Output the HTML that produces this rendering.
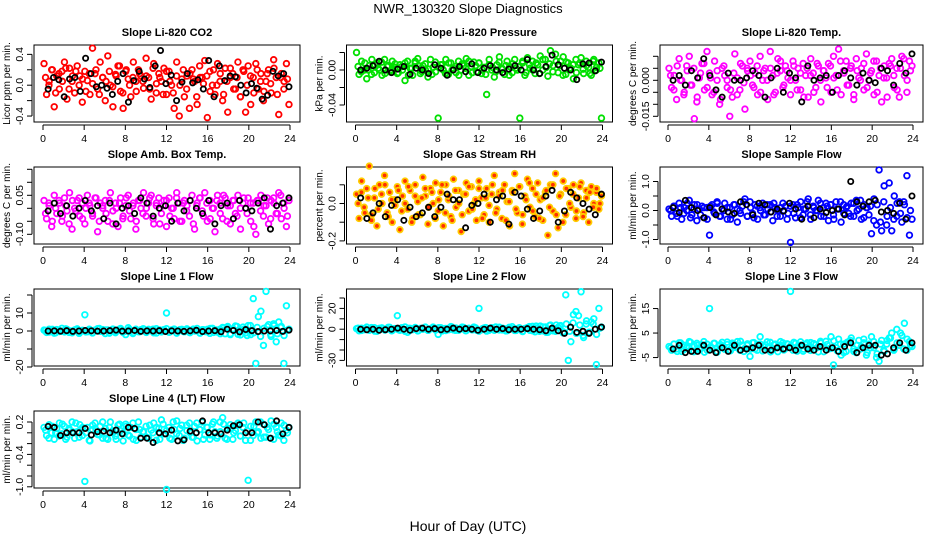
<!DOCTYPE html>
<html><head><meta charset="utf-8"><style>
html,body{margin:0;padding:0;background:#fff;}
svg{display:block;font-family:"Liberation Sans",sans-serif;}
</style></head><body>
<svg id="chart" width="936" height="540" viewBox="0 0 936 540">
<rect x="0" y="0" width="936" height="540" fill="#fff"/>
<text x="468" y="13" text-anchor="middle" font-size="13">NWR_130320  Slope Diagnostics</text>
<text x="468" y="531" text-anchor="middle" font-size="14">Hour of Day (UTC)</text>
</svg>
<script>
const xTicks = [0,4,8,12,16,20,24];
const titles = ["Slope Li-820 CO2","Slope Li-820 Pressure","Slope Li-820 Temp.","Slope Amb. Box Temp.","Slope Gas Stream RH","Slope Sample Flow","Slope Line 1 Flow","Slope Line 2 Flow","Slope Line 3 Flow","Slope Line 4 (LT) Flow"];
const yTitles = ["Licor ppm per min.","kPa per min.","degrees C per min.","degrees C per min.","percent per min.","ml/min per min.","ml/min per min.","ml/min per min.","ml/min per min.","ml/min per min."];
const colors = ["#ff0000","#00e000","#ff00ff","#ff00ff","#ffcc00","#0000ff","#00ffff","#00ffff","#00ffff","#00ffff"];
const yTicks = [[-0.4,-0.2,0,0.2,0.4],[-0.04,-0.02,0,0.02],[-0.015,-0.01,-0.005,0,0.005,0.01],[-0.1,-0.05,0,0.05,0.1,0.15],[-0.2,-0.1,0,0.1],[-1,-0.5,0,0.5,1],[-20,-10,0,10,20],[-30,-20,-10,0,10,20,30],[-5,5,15],[-1,-0.8,-0.6,-0.4,-0.2,0,0.2]];
const yTickLabels = [["-0.4","","0.0","","0.4"],["-0.04","","0.00",""],["-0.015","","","0.000","",""],["-0.10","","","0.05","",""],["-0.2","","0.0",""],["-1.0","","0.0","","1.0"],["-20","","0","10",""],["-30","","","0","","20",""],["-5","5","15"],["-1.0","","","-0.4","","","0.2"]];

const co2 = [0.28,-0.12,0.05,0.2,-0.28,0.12,-0.05,0.18, 0.3,-0.18,0.22,0.05,-0.1,0.25,0.12,-0.22, 0.18,0.06,-0.12,0.48,0.15,-0.05,0.3,0.1, -0.2,0.38,0.0,-0.28,0.14,0.25,-0.08,-0.3, 0.18,0.08,-0.15,0.3,0.05,0.2,0.12,-0.04, 0.35,0.1,-0.18,0.28,-0.1,0.15,0.05,0.22, -0.12,0.18,0.0,-0.3,0.3,-0.4,0.08,-0.15, 0.12,-0.3,0.2,0.05,-0.25,0.25,0.1,0.32, -0.42,0.18,0.0,-0.12,0.28,0.05,-0.2,0.22, -0.35,0.1,0.15,-0.05,0.3,-0.15,0.2,-0.35, 0.25,-0.25,0.1,0.28,-0.05,0.15,-0.2,0.05, 0.2,-0.1,0.33,0.1,-0.38,0.15,-0.05,0.28, -0.25];
const co2B = [0.1,0.0,0.2,-0.1,0.15,0.05, 0.22,-0.05,0.12,0.18,0.0,0.08, -0.08,0.15,0.02,0.2,-0.12,0.1, 0.05,0.18,-0.02,0.12,0.25,-0.1, 0.2,0.0,0.1,-0.08,0.15,0.05, 0.12,-0.05,0.22,0.02,0.1,-0.12, 0.18,0.05,-0.1,0.12,0.0,0.2, -0.05,0.15,0.08,-0.15,0.1,0.02, 0.12,-0.08,0.2,0.0,0.15,-0.12, 0.05,0.22,-0.05,0.1,-0.15,0.18, 0.0,0.12,-0.1,0.2,0.05,-0.08, 0.15,0.02,0.22,-0.12,0.1,0.05, 0.08];
const co2Ref = [-0.05,0.1,0.07,-0.15,0.08,0.1,-0.08,0.35,0.15,-0.02,0.0,-0.04,-0.12,0.05,0.15,-0.22,0.06,0.18,0.08,-0.03,0.25,0.45,0.02,0.13,-0.2,0.04,0.15,0.03,0.07,-0.05,0.32,-0.15,0.25,0.06,0.12,0.11,0.0,-0.1,0.02,-0.04,-0.18,-0.13,0.18,0.12,0.15,-0.02];
const pres = [0.02,-0.005,0.01,0.0,-0.01,0.005,0.012,-0.003, 0.008,0.0,-0.006,0.012,0.004,-0.002,0.01,0.003, -0.004,0.006,0.0,-0.012,0.01,0.002,-0.006,0.008, 0.013,-0.004,0.005,0.0,-0.008,0.012,0.003,-0.002, -0.055,0.006,0.0,0.012,-0.005,0.008,0.002,-0.003, 0.01,0.0,0.005,0.013,-0.006,0.004,0.009,-0.002, 0.008,-0.004,0.003,-0.028,0.012,0.0,-0.008,0.006, 0.015,0.002,-0.005,0.01,0.004,-0.003,0.012,0.0, -0.055,0.008,-0.006,0.014,0.002,0.01,-0.004,0.006, 0.016,0.0,0.012,-0.007,0.022,0.005,0.018,-0.003, 0.01,0.015,-0.005,0.008,0.002,-0.01,0.012,0.006, 0.014,-0.004,0.01,0.003,-0.006,0.012,0.0,0.008, -0.055];
const presB = [0.004,-0.002,0.008,0.0,-0.005,0.006, 0.002,0.009,-0.004,0.005,0.0,0.007, -0.003,0.004,0.008,-0.006,0.002,0.01, 0.005,-0.002,0.007,0.001,-0.005,0.009, 0.003,0.006,-0.004,0.008,0.0,0.004, -0.006,0.007,0.002,0.01,-0.003,0.005, 0.008,0.0,-0.005,0.006,0.003,-0.002, 0.009,0.001,0.005,-0.006,0.007,0.002, 0.004,0.01,-0.003,0.006,0.0,0.008, -0.004,0.012,0.003,0.007,-0.002,0.01, 0.005,-0.006,0.009,0.002,0.006,-0.003, 0.008,0.001,0.005,-0.004,0.01,0.003, 0.002];
const presRef = [0.0,0.002,0.005,0.01,0.0,-0.003,0.001,0.004,-0.005,0.002,0.0,-0.004,0.006,0.002,-0.006,0.0,0.004,-0.002,0.007,-0.003,0.002,0.005,0.0,-0.003,0.001,0.005,0.0,0.012,0.0,-0.004,0.004,0.017,0.006,0.002,0.0,-0.011,0.007,0.008,-0.001,0.009];
const temp = [0.005,-0.003,0.002,-0.008,0.009,0.0,-0.005,0.006, 0.01,-0.002,-0.016,-0.009,0.001,0.007,-0.004,0.012, 0.003,-0.006,0.008,0.0,-0.01,0.005,0.002,-0.003, -0.015,-0.007,0.011,0.001,-0.004,0.006,-0.012,0.004, 0.008,-0.002,0.003,-0.006,0.01,0.0,0.005,-0.008, 0.012,0.002,-0.005,0.009,0.004,-0.003,0.006,0.001, -0.006,0.008,0.0,0.005,-0.004,0.007,0.002,-0.007, 0.009,0.003,-0.003,0.006,-0.009,0.004,0.001,0.007, -0.005,0.01,0.002,0.013,-0.006,0.004,0.008,-0.002, 0.006,-0.008,0.009,0.001,0.005,-0.004,0.011,0.0, 0.004,-0.006,0.008,0.002,-0.009,0.006,0.001,0.007, 0.009,-0.003,0.005,-0.007,0.01,0.002,-0.005,0.008, 0.006];
const tempB = [0.002,-0.004,0.006,0.0,-0.006,0.004, -0.002,0.005,-0.007,0.003,0.007,-0.003, 0.001,-0.005,0.004,-0.008,0.006,0.0, -0.004,0.003,-0.006,0.007,-0.001,0.005, 0.002,-0.003,0.006,-0.005,0.004,0.0, 0.005,-0.006,0.003,0.008,-0.002,0.004, 0.0,0.006,-0.004,0.003,-0.007,0.005, 0.002,-0.005,0.007,0.0,0.004,-0.003, 0.006,0.001,-0.004,0.008,0.003,-0.002, 0.005,-0.006,0.004,0.0,0.007,-0.003, 0.003,0.008,-0.005,0.005,0.001,-0.007, 0.006,0.002,-0.004,0.005,0.009,0.0, 0.004];
const tempRef = [0.0,0.002,-0.002,0.004,0.001,0.009,0.002,-0.004,-0.007,0.003,0.0,0.0,0.001,0.004,0.002,-0.007,0.001,0.005,-0.005,0.003,0.001,-0.009,0.006,0.0,0.001,0.002,-0.005,0.002,0.004,0.001,-0.002,0.003,0.0,-0.001,0.005,0.004,-0.002,0.007,0.003,0.011];
const amb = [0.03,-0.04,0.01,-0.07,0.05,-0.02,0.02,-0.05, 0.04,-0.01,0.06,-0.08,0.0,0.03,-0.03,0.02, -0.06,0.05,0.01,-0.02,0.04,-0.09,0.02,0.0, 0.03,-0.05,0.06,-0.01,0.02,-0.07,0.04,-0.03, 0.01,0.05,-0.04,0.02,-0.08,0.03,0.0,0.06, -0.03,0.02,0.05,-0.06,0.01,0.04,-0.02,0.03, -0.07,0.04,0.0,-0.04,0.06,0.02,-0.05,0.03, 0.01,-0.03,0.05,-0.08,0.02,0.04,-0.01,0.06, -0.05,0.03,0.0,-0.09,0.05,0.02,-0.04,0.04, 0.01,-0.06,0.03,-0.02,0.05,-0.08,0.02,0.0, 0.04,-0.05,0.02,-0.1,0.03,0.05,-0.03,0.01, -0.06,0.03,0.04,-0.02,0.06,-0.04,0.02,-0.07, 0.03];
const ambB = [-0.02,0.02,-0.05,0.0,0.03,-0.03, 0.01,-0.06,0.03,-0.01,0.04,-0.04, 0.0,0.02,-0.03,0.04,-0.05,0.01, -0.02,0.03,-0.06,0.0,0.02,-0.04, 0.04,-0.01,0.01,-0.05,0.03,-0.02, 0.0,0.04,-0.04,0.02,-0.06,0.01, 0.03,-0.03,0.0,0.04,-0.05,0.02, -0.01,0.03,-0.06,0.01,0.04,-0.03, 0.02,-0.04,0.0,0.03,-0.02,0.05, -0.05,0.01,0.03,-0.03,0.0,0.04, -0.02,0.02,-0.07,0.03,-0.01,0.01, 0.04,-0.04,0.02,-0.02,0.05,0.0, -0.03];
const ambRef = [-0.01,0.02,-0.02,0.01,-0.03,0.0,0.03,-0.01,0.01,-0.04,0.02,-0.06,0.0,0.01,-0.02,0.04,0.02,-0.03,0.0,0.01,-0.05,0.02,-0.01,0.03,0.0,-0.02,0.03,-0.06,0.01,0.02,-0.04,0.03,0.0,-0.01,0.02,0.04,-0.08,0.01,0.02,0.04];
const rh = [0.05,-0.08,0.12,-0.02,0.08,0.2,-0.06,0.03, -0.12,0.1,0.0,0.15,-0.05,0.06,-0.1,0.02, 0.09,-0.14,0.04,0.12,-0.03,0.07,-0.08,0.1, 0.01,-0.06,0.14,0.04,-0.11,0.08,0.0,0.11, -0.04,0.06,-0.12,0.1,0.02,-0.07,0.13,-0.02, 0.07,-0.15,0.05,0.11,-0.04,0.09,0.0,-0.09, 0.12,0.03,-0.06,0.08,-0.1,0.05,0.15,-0.03, 0.06,-0.08,0.1,0.01,-0.12,0.07,0.16,-0.05, 0.09,-0.11,0.04,0.13,-0.02,0.08,-0.07,0.11, 0.02,-0.09,0.06,-0.17,0.1,-0.04,0.16,-0.13, 0.05,0.12,-0.06,0.08,-0.02,0.1,-0.08,0.03, 0.11,-0.05,0.07,-0.1,0.09,0.0,0.06,-0.03, 0.04];
const rhB = [0.0,0.06,-0.05,0.03,-0.09,0.08, -0.03,0.05,0.1,-0.07,0.02,-0.01, 0.07,-0.04,0.0,0.09,-0.1,0.04, -0.06,0.03,0.08,-0.02,0.06,-0.08, 0.02,0.1,-0.05,0.04,-0.09,0.07, 0.0,-0.06,0.05,0.09,-0.03,0.02, 0.08,-0.08,0.03,-0.01,0.1,-0.05, 0.04,0.07,-0.09,0.01,0.06,-0.03, 0.09,-0.06,0.02,0.11,-0.04,0.05, -0.08,0.03,0.07,-0.02,0.1,-0.06, 0.04,-0.1,0.08,0.0,0.05,-0.04, 0.09,-0.07,0.03,0.06,-0.02,0.08, 0.0];
const rhRef = [0.03,-0.08,-0.05,0.0,-0.07,-0.01,0.02,-0.09,-0.02,-0.07,-0.05,-0.02,-0.07,-0.02,0.05,0.02,0.02,-0.13,-0.01,0.0,0.05,-0.1,0.02,0.04,-0.11,0.06,0.04,-0.03,-0.08,-0.04,0.04,0.07,-0.1,-0.04,0.06,0.03,0.0,-0.03,-0.06,0.05];
const sflow = [0.05,-0.2,0.15,-0.1,0.25,-0.3,0.1,0.0, 0.35,-0.15,0.2,-0.35,0.05,0.15,-0.25,0.1, -0.85,0.2,-0.1,0.3,-0.2,0.05,0.25,-0.3, 0.1,-0.15,0.2,-0.4,0.0,0.15,0.4,-0.2, 0.3,-0.1,0.2,-0.3,0.1,0.25,-0.15,0.05, 0.2,-0.35,0.1,0.0,-0.2,0.25,0.15,-0.1, -1.1,0.2,-0.25,0.1,0.3,-0.15,0.05,0.4, -0.3,0.15,0.0,0.35,-0.2,0.1,0.25,-0.35, 0.2,-0.15,0.3,0.05,-0.4,0.2,0.1,-0.1, 0.25,-0.2,0.35,0.05,-0.3,0.2,0.1,-0.15, -0.8,0.4,-0.5,1.4,-0.7,0.85,-0.5,0.95, -0.7,0.5,-0.2,0.3,-0.4,0.2,1.2,-0.85, -0.3];
const sflowB = [0.0,0.15,-0.2,0.1,-0.1,0.25, -0.25,0.05,0.2,-0.15,0.1,-0.3, 0.15,-0.05,0.25,-0.2,0.0,0.1, -0.3,0.2,0.05,-0.1,0.3,-0.2, 0.1,-0.25,0.15,0.0,-0.15,0.2, -0.05,0.25,-0.2,0.1,0.0,-0.3, 0.15,-0.1,0.2,-0.25,0.05,0.3, -0.15,0.1,0.0,0.25,-0.2,0.15, 0.2,-0.3,0.05,0.3,-0.1,0.15, -0.2,0.25,0.0,0.35,-0.25,0.1, 0.15,-0.35,0.2,-0.4,0.3,-0.2, 0.1,-0.3,0.25,-0.1,0.3,-0.25, 0.0];
const sflowRef = [0.1,-0.07,0.35,0.1,0.0,-0.25,0.1,-0.15,0.05,-0.05,-0.1,0.3,0.2,-0.15,0.25,0.2,-0.05,0.05,-0.02,0.25,0.05,-0.3,0.15,-0.25,0.05,-0.07,0.0,0.05,-0.15,1.0,0.3,0.15,0.3,0.35,-0.05,0.0,-0.1,0.25,-0.3,0.5];
const line1 = [0.5,-0.8,1.0,0.2,-1.2,0.8,-0.3,1.5, -0.5,0.9,0.1,-1.0,0.6,1.2,-0.7,0.3, 9,-0.4,0.7,-1.1,0.5,1.3,-0.2,0.8, -1.4,0.6,0.0,1.1,-0.9,0.4,1.4,-0.6, -2.0,1.8,0.3,-0.8,1.0,-0.4,0.7,1.2, -0.6,0.9,0.2,-1.0,1.3,0.4,-0.5,0.8, 10,-0.7,0.6,1.1,-1.2,0.3,0.9,-0.4, 1.2,-0.8,0.5,0.0,1.4,-1.0,0.7,-0.3, 0.9,-1.3,1.5,0.2,-0.6,1.0,2.0,-1.5, 2.5,-2.0,1.2,2.8,-1.8,0.5,2.2,-1.0, 3.0,-2.0,18,-18,8,11,-8,22, 3.5,-3,4,-6,5,2.5,-18,14, 1.0];
const line1B = [0.3,-0.6,0.9,-1.0,0.5,-0.2, 1.2,-0.8,0.0,0.7,-1.3,0.4, -0.5,1.0,-0.9,0.2,1.4,-0.3, 0.6,-1.2,0.8,-0.1,1.1,-0.7, 0.0,0.9,-1.4,0.5,-0.4,1.2, -0.8,0.3,1.0,-1.1,0.6,0.0, 1.3,-0.5,0.2,-1.0,0.8,-0.3, 0.5,-0.9,1.1,0.1,-1.2,0.7, -0.4,1.4,-0.8,0.6,-1.5,1.8, 2.0,-1.5,0.8,2.5,-2.2,1.0, -2.5,3.0,-1.0,2.0,-3.0,1.5, 2.5,-2.0,3.0,-1.5,2.0,-2.5, 0.5];
const line1Ref = [0.0,0.1,-0.1,0.2,-0.2,0.0,0.3,0.1,-0.1,0.0,0.2,0.5,-0.1,0.0,0.3,-0.2,0.1,0.0,0.2,-0.3,0.1,0.0,-0.2,0.1,0.4,-0.3,0.0,0.2,-0.4,1.0,0.3,-0.5,0.8,0.2,-0.3,0.0,0.1,0.3,-0.2,0.5];
const line2 = [0.5,-1.5,1.0,-0.5,2.0,-1.0,0.3,1.5, -2.0,0.8,1.2,-0.7,0.2,1.8,-1.2,0.6, 13,-1.0,0.5,2.2,-3,0.8,-0.4,1.4, -1.6,0.9,0.0,1.8,-1.1,0.5,2.0,-0.8, -5,1.5,0.2,-1.3,0.9,2.5,-0.6,1.1, -1.0,0.4,1.7,-1.4,0.8,0.0,2.1,-0.9, 20,-0.5,1.2,-1.8,0.6,1.5,-1.0,0.3, 1.9,-0.7,0.4,-1.5,1.3,2.4,-1.2,0.5, 1.0,-2.0,0.7,1.6,-1.1,2.8,-2.5,1.3, 3.0,-1.5,2.2,-3,4,0.5,-2,1.8, 3.5,-2.5,33,-30,-12,14,17,13, 36,-8,5,-3,7,10,-34,20, 2];
const line2B = [1.0,-1.2,0.5,-0.3,1.6,-1.8, 0.2,1.2,-0.8,1.8,-1.5,0.6, -0.4,1.4,-2.0,0.9,0.0,1.7, -1.3,0.4,2.0,-0.9,1.1,-0.2, 1.5,-1.7,0.7,-0.5,1.9,-1.1, 0.3,2.1,-1.4,0.8,-0.6,1.3, -1.9,0.5,1.6,-1.0,0.0,2.2, -0.7,1.0,-1.6,1.8,0.4,-1.2, 1.4,-2.2,0.9,2.5,-1.5,3.0, -2.0,2.2,-3.0,3.5,-1.5,4.0, 3.0,-3.5,5.0,-2.0,6.0,-4.0, 4.0,-6.0,8.0,-3.0,5.0,-5.0, 1.0];
const line2Ref = [0,-0.5,0,-1,-0.5,0,1,0,-1,0.5,1,0,0.5,-0.5,0,1,0,0.5,0,-1,0,1,0,0.5,-0.5,0,0,0.5,0,-0.5,-1.5,1,-1.5,-4,2,-3,-2,-4,0,2];
const line3 = [-0.5,-2,0.5,-1.5,1.0,-2.5,0,-1, 1.5,-2.2,-0.3,0.8,-1.8,0.2,-2.8,0.5, 15,-1.2,0.8,-2.5,-0.2,1.2,-1.6,0.3, -2.2,0.9,-0.8,1.5,-2.0,0.1,-1.2,0.6, -4.5,1.0,-1.5,0.4,3.5,-2.3,0.2,-0.9, 1.2,-1.8,0.5,-2.6,0.0,1.0,-1.3,0.4, 22,-2.0,0.8,-1.0,1.4,-2.4,0.3,-0.6, 1.1,-1.9,0.2,-2.7,0.9,-0.5,1.6,-1.5, 3.5,-8,-1,2.5,-4,0.5,-2.5,1.5, 3.0,-1.5,-3,2.0,-0.5,1.0,-4,0.5, 3.5,-1,-5,-6.5,2,-2.5,0.5,3, 5,-1.5,6.5,0,4,9,-2,1.5, -0.5];
const line3B = [-1.0,0.5,-2.5,1.0,-1.8,-0.2, 1.2,-2.6,0.0,-1.4,1.5,-2.0, -0.5,0.8,-2.8,0.3,-1.2,1.3, -2.2,0.6,-0.8,1.6,-2.5,0.0, -1.5,1.1,-2.0,0.4,-0.6,1.4, -2.7,0.2,-1.0,1.5,-1.9,0.6, -0.3,1.2,-2.4,0.1,-1.6,1.0, -2.1,0.7,-0.9,1.6,-2.6,0.3, -1.3,1.8,-2.2,0.5,-3.0,1.2, 2.0,-2.5,0.0,-1.5,2.5,-3.0, -1.0,1.5,-3.5,0.5,-2.0,2.0, 3.0,-2.0,1.0,5.0,-1.5,2.5, 0.0];
const line3Ref = [-1.5,0,-3,-2.5,-2.5,0,-2,-3,-1,-2.5,0,-2,-1.5,-1,0,-2,-2,-1,-1.5,-1,-2,0,-1.5,-2,-0.5,-2,-1,-2.5,-0.5,1,-3,-1,0,0,-4,-3.5,-1,1,-2,1];
const line4 = [0.1,-0.05,0.15,0.0,-0.12,0.08,0.18,-0.02, 0.12,-0.08,0.05,0.2,-0.1,0.02,0.15,-0.05, -0.9,0.1,-0.15,0.06,0.18,-0.03,0.12,-0.1, 0.08,-0.12,0.2,0.0,-0.06,0.14,0.04,-0.15, 0.16,-0.04,0.1,-0.12,0.06,0.2,-0.08,0.02, 0.12,-0.1,0.05,0.18,-0.14,0.08,0.24,-0.02, -1.05,0.1,-0.12,0.06,0.22,-0.05,0.14,-0.1, 0.04,0.18,-0.08,0.12,-0.15,0.06,0.2,-0.04, 0.1,-0.12,0.16,0.02,-0.06,0.2,0.28,-0.1, 0.08,0.15,-0.12,0.04,0.18,-0.06,0.1,-0.14, -0.88,0.12,-0.05,0.2,0.02,-0.1,0.16,-0.08, 0.06,0.22,-0.12,0.1,-0.04,0.18,-0.14,0.05, 0.1];
const line4B = [0.05,-0.1,0.12,0.0,-0.06,0.16, -0.12,0.08,0.02,0.18,-0.08,0.1, 0.0,-0.14,0.14,0.06,-0.04,0.2, -0.1,0.1,0.04,-0.12,0.16,0.0, 0.12,-0.06,0.18,-0.14,0.06,0.02, -0.08,0.14,0.0,0.1,-0.12,0.16, 0.04,-0.1,0.2,-0.02,0.08,-0.14, 0.14,0.0,-0.08,0.18,0.06,-0.12, 0.1,-0.04,0.2,-0.1,0.02,0.16, -0.12,0.08,0.0,0.14,-0.06,0.18, 0.04,-0.14,0.12,0.0,0.2,-0.08, 0.1,-0.1,0.16,0.02,-0.06,0.14, 0.0];
const line4Ref = [0.12,0.1,-0.05,0.0,0.0,0.0,0.08,-0.04,0.02,0.03,0.0,0.05,-0.02,0.1,0.08,-0.1,-0.1,-0.18,0.0,-0.02,0.05,-0.15,-0.13,0.03,0.0,0.22,0.0,0.0,-0.02,0.05,0.13,0.15,0.0,0.0,0.2,0.15,-0.1,0.22,-0.02,0.1];

const series = [co2,pres,temp,amb,rh,sflow,line1,line2,line3,line4];
const seriesB = [co2B,presB,tempB,ambB,rhB,sflowB,line1B,line2B,line3B,line4B];
const refSeries = [co2Ref,presRef,tempRef,ambRef,rhRef,sflowRef,line1Ref,line2Ref,line3Ref,line4Ref];
const slugs = ["co2","pressure","temp","amb-box-temp","gas-rh","sample-flow","line1-flow","line2-flow","line3-flow","line4-flow"];

// layout (pixels) – not data
const colLeft = [34,346.5,660], colRight = [300,612.5,923];
const x0px = [43,355.5,668], x24px = [290,602.5,913];
const rowTop = [45,167,289,411], boxH = 77;
const yZeroPx = [85.2,70,80.3,208.3,203.5,210.5,331,329.2,345.3,432.8];
const yScale = [77.1,875,2400,260,187,29,1.8,1.04,2.45,54];

const NS = "http://www.w3.org/2000/svg";
const svg = document.getElementById("chart");
function mk(tag, attrs, parent){ const e=document.createElementNS(NS,tag); for(const k in attrs) e.setAttribute(k,attrs[k]); (parent||svg).appendChild(e); return e; }

series.forEach((vals, p) => {
  const col = p % 3, row = Math.floor(p / 3);
  const L = colLeft[col], R = colRight[col], T = rowTop[row], B = T + boxH;
  const xs = h => x0px[col] + (x24px[col]-x0px[col]) * h / 24;
  const ys = v => yZeroPx[p] - v * yScale[p];
  const g = mk("g", {});
  
  

  const title = mk("text", {x:(L+R)/2, y:T-9, "text-anchor":"middle", "font-size":"11", "font-weight":"bold"}, g);
  title.textContent = titles[p];
  
  

  const box = mk("rect", {x:L, y:T, width:R-L, height:boxH, fill:"none", stroke:"#000", "stroke-width":"1"}, g);
  
  

  const xa = mk("g", {}, g);
  
  
  mk("line", {x1:xs(0), x2:xs(24), y1:B+3, y2:B+3, stroke:"#000"}, xa);
  xTicks.forEach(t => {
    mk("line", {x1:xs(t), x2:xs(t), y1:B+3, y2:B+8, stroke:"#000"}, xa);
    const lb = mk("text", {x:xs(t), y:B+20, "text-anchor":"middle", "font-size":"10.5"}, xa);
    lb.textContent = t;
    
    
  });

  const ya = mk("g", {}, g);
  
  
  const tk = yTicks[p];
  mk("line", {x1:L-2, x2:L-2, y1:ys(tk[0]), y2:ys(tk[tk.length-1]), stroke:"#000"}, ya);
  tk.forEach((t, i) => {
    mk("line", {x1:L-2, x2:L-7, y1:ys(t), y2:ys(t), stroke:"#000"}, ya);
    const s = yTickLabels[p][i];
    if (s) {
      const lx = L - 11;
      const lb = mk("text", {x:lx, y:ys(t), "text-anchor":"middle", "font-size":"10.5", transform:"rotate(-90 "+lx+" "+ys(t)+")"}, ya);
      lb.textContent = s;
      
      
    }
  });
  const tx = L - 24, ty = T + boxH/2;
  const yt = mk("text", {x:tx, y:ty, "text-anchor":"middle", "font-size":"10", transform:"rotate(-90 "+tx+" "+ty+")"}, g);
  yt.textContent = yTitles[p];
  
  

  const pg = mk("g", {}, g);
  
  
  const fill = (p===4) ? "#ff3000" : "none";
  const n = vals.length;
  vals.forEach((v, i) => {
    const h = 0.1 + i * 23.8 / (n - 1);
    const c = mk("circle", {cx:xs(h), cy:ys(v), r:"2.8", fill:fill, stroke:colors[p], "stroke-width":"1.8"}, pg);
    
    
  });
  const vb = seriesB[p], nb = vb.length;
  vb.forEach((v, i) => {
    const h = 0.25 + i * 23.5 / (nb - 1);
    const c = mk("circle", {cx:xs(h), cy:ys(v), r:"2.8", fill:fill, stroke:colors[p], "stroke-width":"1.8"}, pg);
    
    
  });
  const rg = mk("g", {}, g);
  
  
  const ref = refSeries[p], m = ref.length;
  ref.forEach((v, i) => {
    const h = 0.5 + i * 23.4 / (m - 1);
    const c = mk("circle", {cx:xs(h), cy:ys(v), r:"2.6", fill:"none", stroke:"#000", "stroke-width":"1.8"}, rg);
    
    
  });
});
</script>
</body></html>
